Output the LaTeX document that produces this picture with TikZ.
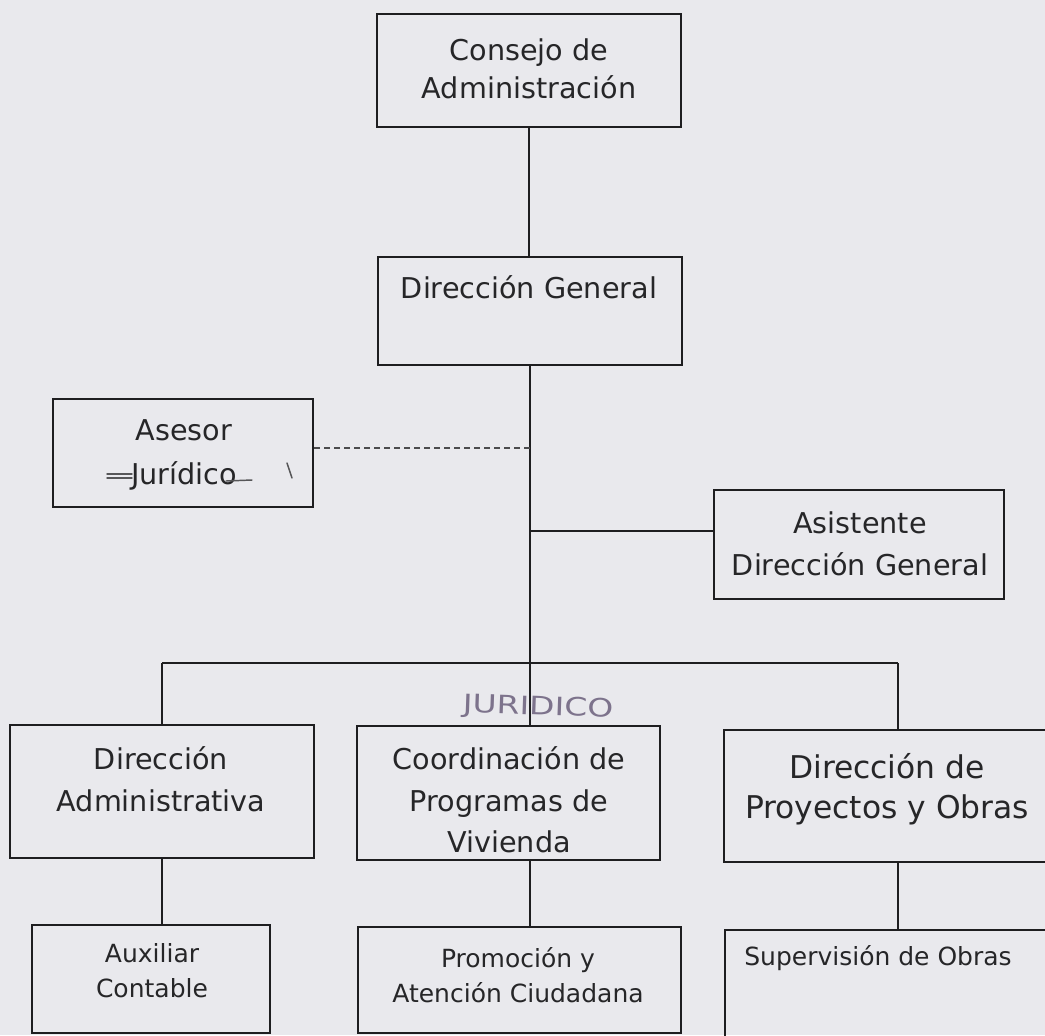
\documentclass[tikz,border=0pt]{standalone}
\usepackage{fontspec}
\setmainfont{DejaVu Sans}
\usetikzlibrary{fit}
\definecolor{bg}{RGB}{233,233,237}
\definecolor{ink}{RGB}{30,30,32}
\definecolor{txt}{RGB}{38,38,40}
\definecolor{pencil}{RGB}{125,115,140}
\begin{document}
\begin{tikzpicture}[x=0.75pt,y=-0.75pt,
  box/.style={draw=ink, line width=2pt, inner sep=0pt},
  conn/.style={draw=ink, line width=1.5pt},
  dashconn/.style={draw=ink!80, line width=1.3pt, dash pattern=on 4.5pt off 3pt},
  big/.style={font=\fontsize{21.5pt}{31.5pt}\selectfont, text=txt, align=center, inner sep=0pt},
  small/.style={font=\fontsize{18.75pt}{26.25pt}\selectfont, text=txt, align=center, inner sep=0pt},
  scribble/.style={draw=ink!75, line width=1.1pt, line cap=round}
]
\fill[bg] (0,0) rectangle (1045,1035);
\useasboundingbox (0,0) rectangle (1045,1035);

% boxes
\node[box, fit={(377,14)(681,127)}] (consejo) {};
\node[big, font=\fontsize{21.5pt}{28.5pt}\selectfont] (consejoT) at (529,69) {Consejo de\\Administración};

\node[box, fit={(378,257)(682,365)}] (dg) {};
\node[big] (dgT) at (529,287) {Dirección General};

\node[box, fit={(53,399)(313,507)}] (asesor) {};
\node[big, font=\fontsize{21.5pt}{33.5pt}\selectfont] (asesorT) at (184,455) {Asesor\\Jurídico};

\node[box, fit={(714,490)(1004,599)}] (asist) {};
\node[big] (asistT) at (860,544) {Asistente\\Dirección General};

\node[box, fit={(10,725)(314,858)}] (admin) {};
\node[big] (adminT) at (161,779) {Dirección\\Administrativa};

\node[box, fit={(357,726)(660,860)}] (coord) {};
\begin{scope}
  \clip (357,726) rectangle (660,852);
  \node[big, font=\fontsize{21.5pt}{31pt}\selectfont] (coordT) at (509,800) {Coordinación de\\Programas de\\Vivienda};
\end{scope}

\node[box, fit={(724,730)(1071,862)}] (proy) {};
\node[big, font=\fontsize{23.5pt}{30pt}\selectfont] (proyT) at (887,789) {Dirección de\\Proyectos y Obras};

\node[box, fit={(32,925)(270,1033)}] (aux) {};
\node[small] (auxT) at (152,971) {Auxiliar\\Contable};

\node[box, fit={(358,927)(681,1033)}] (promo) {};
\node[small] (promoT) at (518,975) {Promoción y\\Atención Ciudadana};

\node[box, fit={(725,930)(1071,1042)}] (super) {};
\node[small, anchor=west] (superT) at (744,958) {Supervisión de Obras};

% junctions
\coordinate (jA) at (dg.south |- 0,448);
\coordinate (jB) at (dg.south |- 0,531);
\coordinate (bus) at (dg.south |- 0,663);

% connectors
\draw[conn] (consejo.south) -- (consejo.south |- dg.north);
\draw[conn] (dg.south) -- (dg.south |- coord.north);
\draw[dashconn] (jA -| asesor.east) -- (jA);
\draw[conn] (jB) -- (jB -| asist.west);
\draw[conn] (bus -| admin.north) -- (bus -| proy.north);
\draw[conn] (bus -| admin.north) -- (admin.north);
\draw[conn] (bus -| proy.north) -- (proy.north);
\draw[conn] (admin.south) -- (admin.south |- aux.north);
\draw[conn] (coord.south -| bus) -- (promo.north -| bus);
\draw[conn] (proy.south) -- (proy.south |- super.north);

% handwritten annotations
\node[text=pencil, font=\fontsize{19pt}{19pt}\selectfont, inner sep=0pt, rotate=-2] (hw) at (538,708) {\scalebox{1.3}[1]{JURIDICO}};
\draw[scribble] (107,474) -- (132,474);
\draw[scribble] (107,478) -- (132,478);
\draw[scribble] (226,481) -- (252,480);
\draw[scribble] (287,463) -- (292,478);
\end{tikzpicture}
\end{document}
